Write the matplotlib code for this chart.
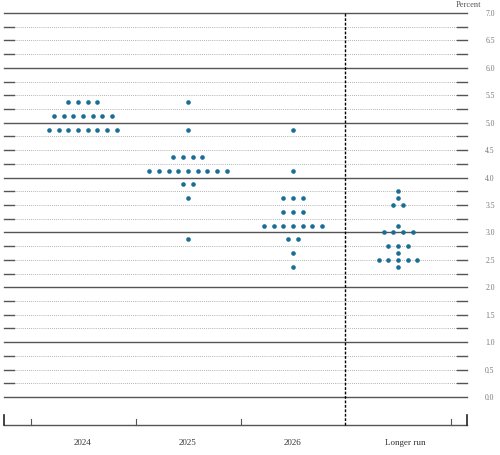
import matplotlib.pyplot as plt
import numpy as np

plt.rcParams["font.family"] = ["Liberation Serif", "DejaVu Serif"]

categories = ["2024", "2025", "2026", "Longer run"]
# (rate, number of participants) per category
dots_2024 = [(5.375, 4), (5.125, 7), (4.875, 8)]
dots_2025 = [(5.375, 1), (4.875, 1), (4.375, 4), (4.125, 9), (3.875, 2), (3.625, 1), (2.875, 1)]
dots_2026 = [(4.875, 1), (4.125, 1), (3.625, 3), (3.375, 3), (3.125, 7), (2.875, 2), (2.625, 1), (2.375, 1)]
dots_longer = [(3.75, 1), (3.625, 1), (3.5, 2), (3.125, 1), (3.0, 4), (2.75, 3), (2.625, 1), (2.5, 5), (2.375, 1)]
all_dots = [dots_2024, dots_2025, dots_2026, dots_longer]
y_labels = np.arange(0, 7.01, 0.5)

fig = plt.figure(figsize=(5.0, 4.56), dpi=100)
ax = fig.add_axes([0, 0, 1, 1])
ax.set_xlim(-0.790, 3.971)
ax.set_ylim(-1.057, 7.255)
ax.axis("off")

left, right = -0.752, 3.657
stub = 0.095
grey = "#555555"
for y in np.arange(0, 7.01, 0.25):
    if abs(y - round(y)) < 1e-9:
        ax.plot([left, right], [y, y], color=grey, lw=1.0, zorder=1)
    else:
        ax.plot([left + stub, right - stub], [y, y], color="#999999", lw=0.6, ls=(0, (1, 1.5)), zorder=1)
        ax.plot([left, left + stub], [y, y], color=grey, lw=1.0, zorder=1)
        ax.plot([right - stub, right], [y, y], color=grey, lw=1.0, zorder=1)

for y in y_labels:
    ax.text(3.875, y, f"{y:.1f}", ha="center", va="center", fontsize=5.5, color="#777777")
ax.text(3.545, 7.17, "Percent", ha="left", va="center", fontsize=6, color="#555555")

# bottom axis
axis_y = -0.51
ax.plot([left, right], [axis_y, axis_y], color=grey, lw=1.0)
for tx in [-0.495, 0.505, 1.505, 3.505]:
    ax.plot([tx, tx], [axis_y, axis_y + 0.11], color=grey, lw=0.8)
for tx in [left, right]:
    ax.plot([tx, tx], [axis_y, axis_y + 0.18], color="#222222", lw=1.2)
ax.plot([2.495, 2.495], [axis_y, 7.0], color="black", lw=1.0, ls=(0, (2, 1.2)), zorder=2)

spacing = 0.092
for i, (name, groups) in enumerate(zip(categories, all_dots)):
    for rate, count in groups:
        xs = i + (np.arange(count) - (count - 1) / 2) * spacing
        ax.scatter(xs, [rate] * count, s=11, color="#1a6e96", zorder=3, linewidths=0)
    ax.text(i + (0.07 if i == 3 else 0), -0.82, name, ha="center", va="center", fontsize=6.5, color="#333333")

fig.savefig("out.png", dpi=100)
